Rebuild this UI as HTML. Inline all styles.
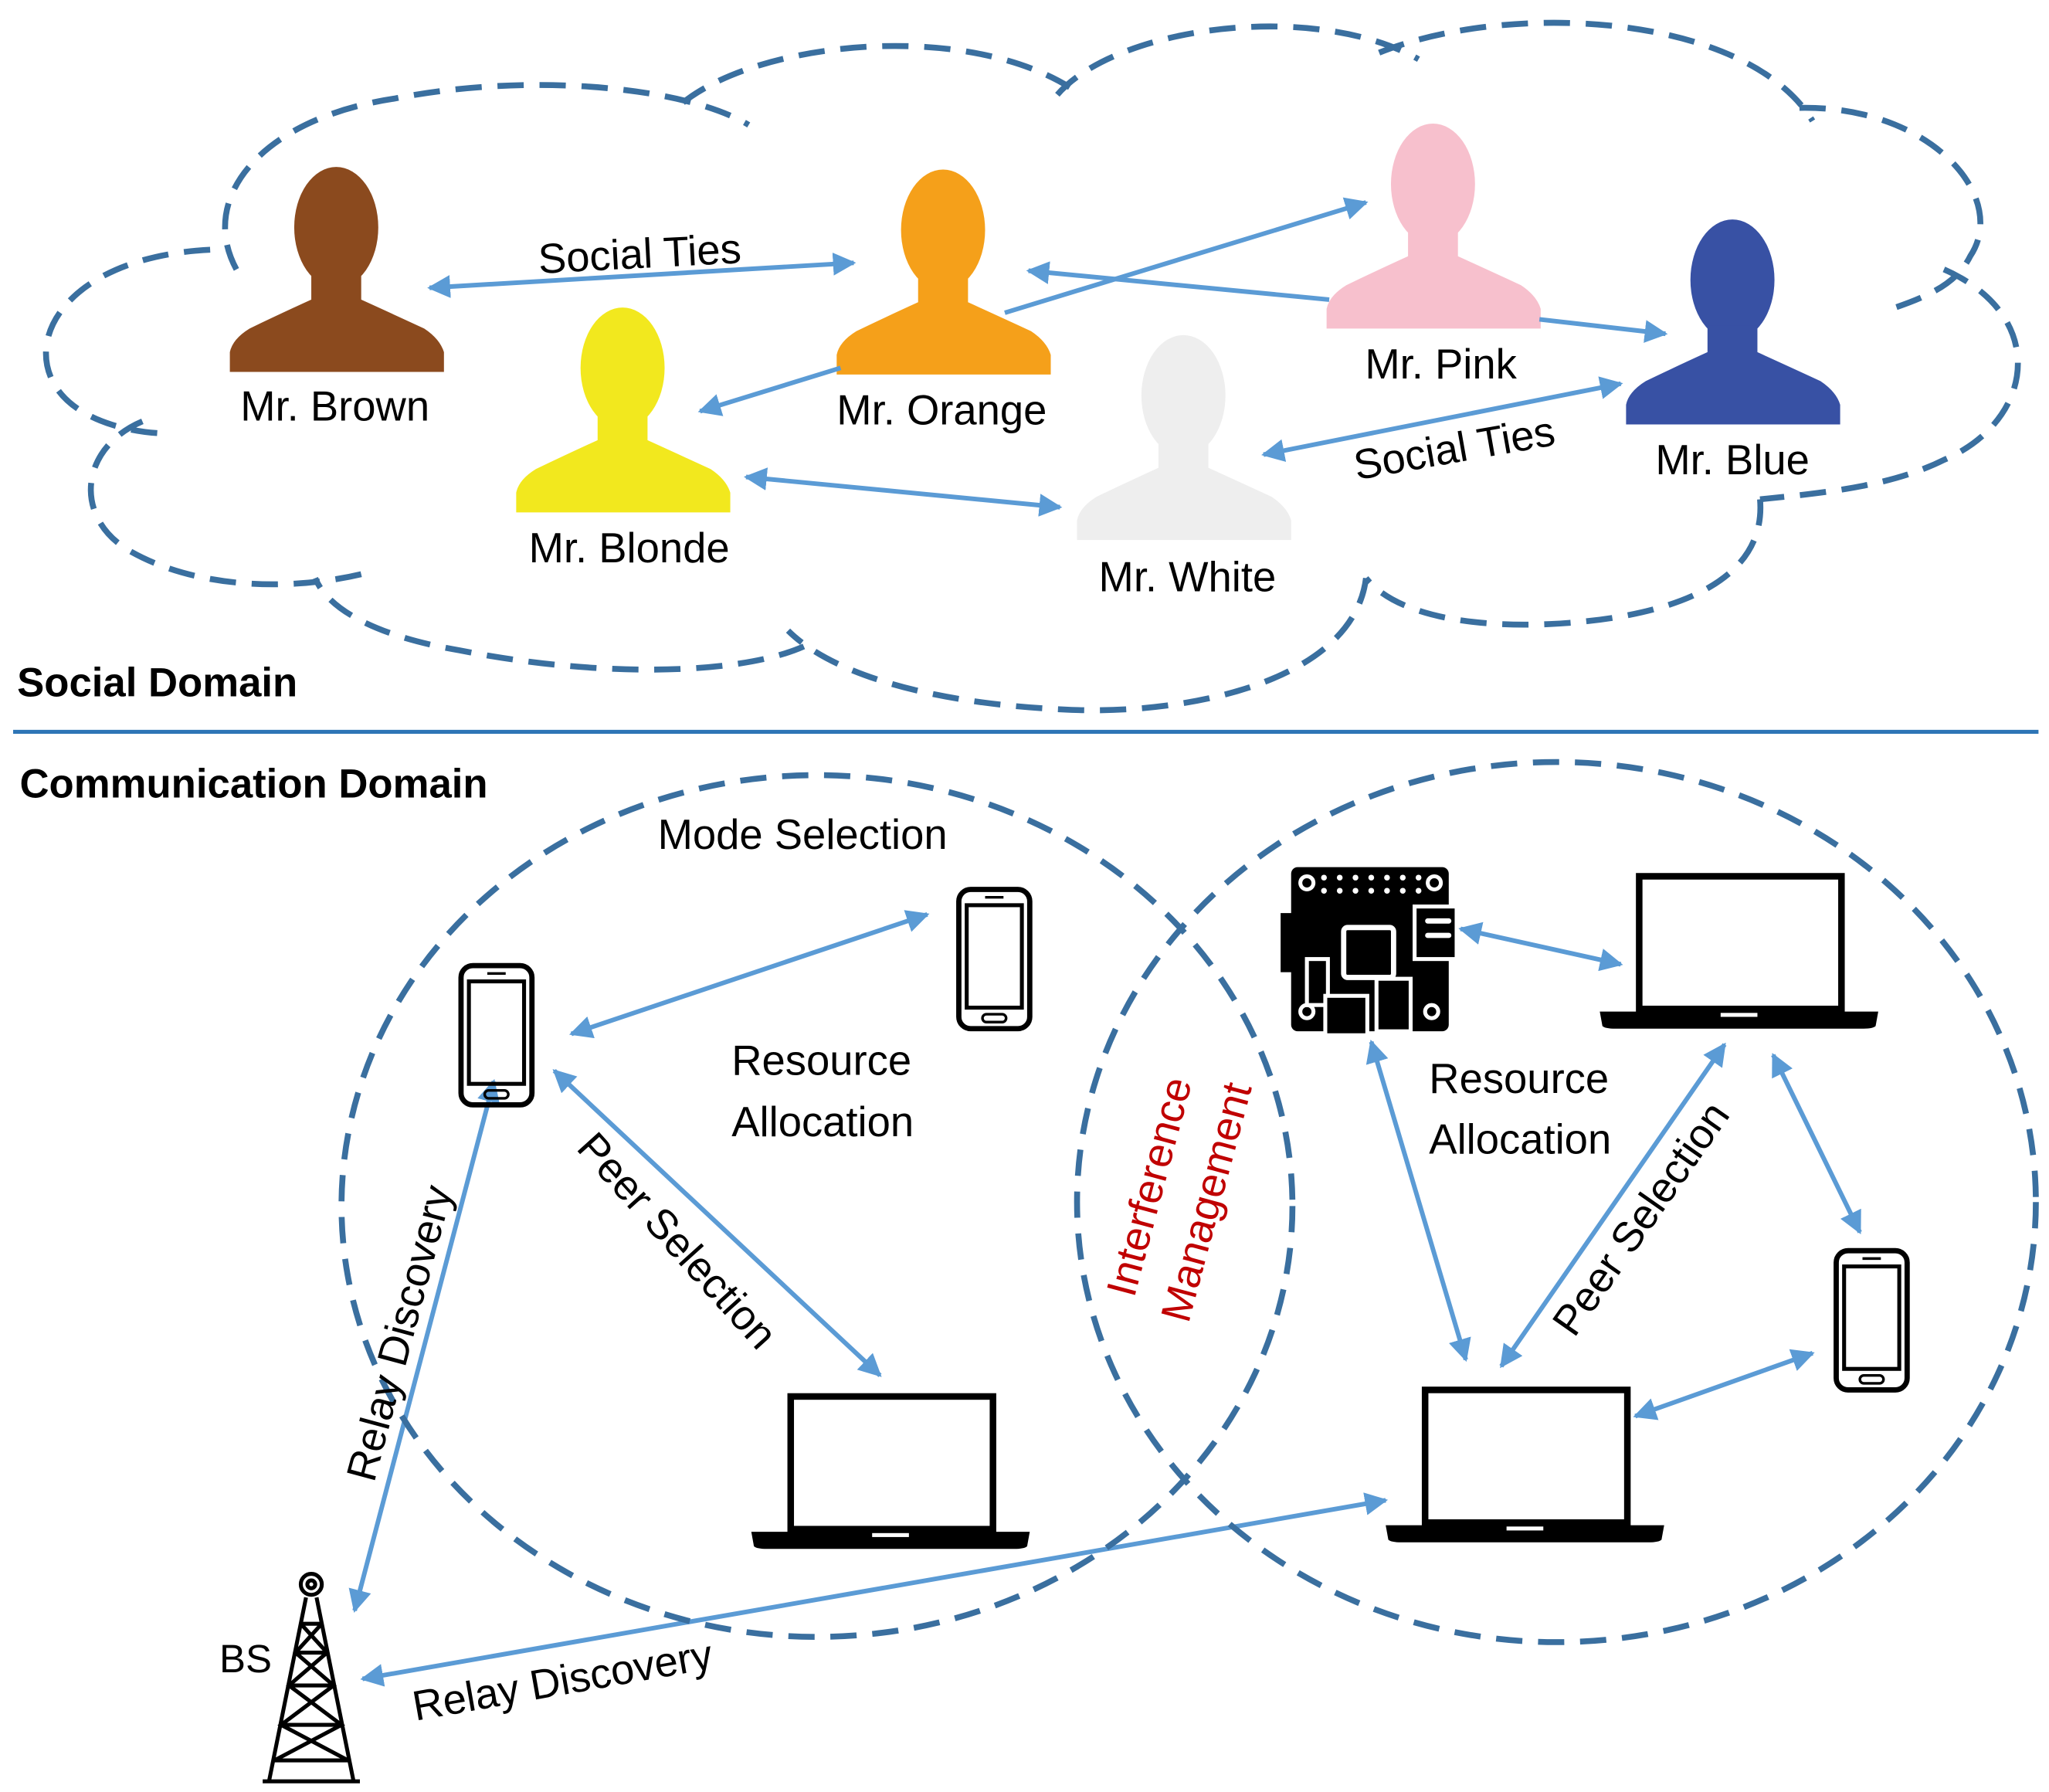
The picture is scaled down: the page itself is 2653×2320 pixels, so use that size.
<!DOCTYPE html>
<html><head><meta charset="utf-8"><style>
html,body{margin:0;padding:0;background:#fff}
svg{display:block}
text{font-family:"Liberation Sans",sans-serif;fill:#000}
</style></head><body>
<svg width="2653" height="2320" viewBox="0 0 1560 1364" xmlns="http://www.w3.org/2000/svg">
<defs>
<marker id="ah" viewBox="0 0 10 10" refX="9" refY="5" markerWidth="5" markerHeight="5" orient="auto-start-reverse"><path d="M0,0 L10,5 L0,10 z" fill="#5b9bd5"/></marker>
<g id="person"><ellipse cx="81" cy="45" rx="32" ry="46"/><path d="M62,80 L62,100 Q40,110 15,122 Q2,130 0,140 L0,155 L163,155 L163,140 Q160,130 148,122 Q122,110 100,100 L100,80 z"/></g>
<g id="phone"><rect x="2" y="2" width="54" height="106" rx="9" fill="none" stroke="#000" stroke-width="4"/><rect x="8" y="14" width="42" height="78" fill="none" stroke="#000" stroke-width="3"/><rect x="20" y="97" width="18" height="6" rx="3" fill="none" stroke="#000" stroke-width="2"/><line x1="22" y1="8" x2="36" y2="8" stroke="#000" stroke-width="2"/></g>
<g id="laptop"><rect x="30" y="3" width="154" height="101" fill="none" stroke="#000" stroke-width="5"/><path d="M0,106 L212,106 L210,117 Q208,119 200,119 L12,119 Q4,119 2,117 z"/><rect x="92" y="107" width="28" height="3" fill="#fff"/></g>
</defs>
<g fill="none" stroke="#3a6f9f" stroke-width="4.5" stroke-dasharray="20,12">
<path d="M160,190 C60,195 20,250 40,290 C55,320 100,330 130,330"/>
<path d="M180,205 C150,150 200,90 300,75 C400,55 520,65 570,95"/>
<path d="M520,78 C580,30 740,15 820,70"/>
<path d="M805,72 C850,20 1000,0 1080,45"/>
<path d="M1050,40 C1150,0 1330,10 1380,92"/>
<path d="M1370,82 C1470,80 1530,150 1500,195 C1490,215 1470,225 1440,235"/>
<path d="M1480,205 C1560,240 1550,320 1480,350 C1440,370 1390,375 1340,380"/>
<path d="M1340,380 C1345,440 1280,470 1180,475 C1110,478 1060,465 1040,440"/>
<path d="M1040,440 C1030,520 900,545 810,540 C700,535 630,510 600,480"/>
<path d="M612,492 C560,515 450,515 350,495 C290,485 250,465 240,440"/>
<path d="M275,437 C220,450 150,448 100,420 C55,395 60,340 110,320"/>
</g>
<use href="#person" x="175" y="128" fill="#8b4a1e"/>
<use href="#person" x="637" y="130" fill="#f5a01a"/>
<use href="#person" x="393" y="235" fill="#f2e81e"/>
<use href="#person" x="1010" y="95" fill="#f7c0cd"/>
<use href="#person" x="1238" y="168" fill="#3851a4"/>
<use href="#person" x="820" y="256" fill="#eeeeee"/>
<g stroke="#5b9bd5" stroke-width="3.5" marker-start="url(#ah)" marker-end="url(#ah)">
<line x1="327" y1="219" x2="650" y2="200"/>
<line x1="568" y1="363" x2="807" y2="386"/>
<line x1="962" y1="346" x2="1234" y2="292"/>
<line x1="435" y1="787" x2="706" y2="696"/>
<line x1="422" y1="815" x2="670" y2="1047"/>
<line x1="376" y1="823" x2="270" y2="1226"/>
<line x1="276" y1="1278" x2="1055" y2="1142"/>
<line x1="1112" y1="707" x2="1234" y2="734"/>
<line x1="1044" y1="793" x2="1116" y2="1035"/>
<line x1="1313" y1="795" x2="1143" y2="1040"/>
<line x1="1350" y1="803" x2="1416" y2="938"/>
<line x1="1245" y1="1078" x2="1380" y2="1030"/>
</g>
<g stroke="#5b9bd5" stroke-width="3.5">
<line x1="533" y1="313" x2="640" y2="280" marker-start="url(#ah)"/>
<line x1="783" y1="206" x2="1012" y2="228" marker-start="url(#ah)"/>
<line x1="765" y1="238" x2="1040" y2="154" marker-end="url(#ah)"/>
<line x1="1172" y1="243" x2="1268" y2="254" marker-end="url(#ah)"/>
</g>
<g font-size="32">
<text x="255" y="320" text-anchor="middle">Mr. Brown</text>
<text x="717" y="323" text-anchor="middle">Mr. Orange</text>
<text x="479" y="428" text-anchor="middle">Mr. Blonde</text>
<text x="1097" y="288" text-anchor="middle">Mr. Pink</text>
<text x="1319" y="361" text-anchor="middle">Mr. Blue</text>
<text x="904" y="450" text-anchor="middle">Mr. White</text>
<text x="487" y="204" text-anchor="middle" transform="rotate(-3 487 193)">Social Ties</text>
<text x="1107" y="352" text-anchor="middle" transform="rotate(-10 1107 340)">Social Ties</text>
</g>
<text x="13" y="530" font-size="31" font-weight="bold">Social Domain</text>
<line x1="10" y1="557" x2="1552" y2="557" stroke="#2e75b6" stroke-width="3"/>
<text x="15" y="607" font-size="31" font-weight="bold">Communication Domain</text>
<g fill="none" stroke="#3a6f9f" stroke-width="4.5" stroke-dasharray="20,12">
<ellipse cx="622" cy="918" rx="362" ry="328"/>
<ellipse cx="1185" cy="915" rx="365" ry="335"/>
</g>
<use href="#phone" x="349" y="733"/>
<use href="#phone" x="728" y="675"/>
<use href="#phone" x="1396" y="950"/>
<use href="#laptop" x="572" y="1060"/>
<use href="#laptop" x="1218" y="664"/>
<use href="#laptop" x="1055" y="1055"/>
<g>
<rect x="983" y="660" width="120" height="125" rx="5" fill="#000"/>
<rect x="975" y="695" width="12" height="45" fill="#000"/>
<rect x="1077" y="690" width="32" height="40" fill="#000" stroke="#fff" stroke-width="3"/>
<rect x="1085" y="699" width="20" height="4" rx="2" fill="#fff"/><rect x="1085" y="710" width="20" height="4" rx="2" fill="#fff"/>
<rect x="1023" y="706" width="38" height="38" rx="3" fill="none" stroke="#fff" stroke-width="4"/>
<rect x="995" y="730" width="16" height="35" fill="none" stroke="#fff" stroke-width="3"/>
<rect x="1009" y="758" width="32" height="30" fill="#000" stroke="#fff" stroke-width="3"/>
<rect x="1048" y="745" width="26" height="40" fill="#000" stroke="#fff" stroke-width="3"/>
<circle cx="995" cy="672" r="5" fill="none" stroke="#fff" stroke-width="3"/>
<circle cx="1092" cy="672" r="5" fill="none" stroke="#fff" stroke-width="3"/>
<circle cx="995" cy="770" r="5" fill="none" stroke="#fff" stroke-width="3"/>
<circle cx="1090" cy="770" r="5" fill="none" stroke="#fff" stroke-width="3"/>
<g fill="#fff"><circle cx="1008" cy="668" r="2.2"/><circle cx="1020" cy="668" r="2.2"/><circle cx="1032" cy="668" r="2.2"/><circle cx="1044" cy="668" r="2.2"/><circle cx="1056" cy="668" r="2.2"/><circle cx="1068" cy="668" r="2.2"/><circle cx="1080" cy="668" r="2.2"/>
<circle cx="1008" cy="678" r="2.2"/><circle cx="1020" cy="678" r="2.2"/><circle cx="1032" cy="678" r="2.2"/><circle cx="1044" cy="678" r="2.2"/><circle cx="1056" cy="678" r="2.2"/><circle cx="1068" cy="678" r="2.2"/><circle cx="1080" cy="678" r="2.2"/></g>
</g>
<g stroke="#000" stroke-width="3" fill="none">
<circle cx="237" cy="1206" r="8"/><circle cx="237" cy="1206" r="3"/>
<path d="M233,1216 L205,1355 M241,1216 L269,1355 M229,1236 L245,1236 M225,1258 L249,1258 M220,1283 L254,1283 M214,1313 L260,1313 M209,1340 L265,1340 M229,1236 L249,1258 L220,1283 L260,1313 L209,1340 M245,1236 L225,1258 L254,1283 L214,1313 L265,1340 M200,1356 L274,1356"/>
</g>
<g font-size="32">
<text x="611" y="646" text-anchor="middle">Mode Selection</text>
<text x="557" y="818">Resource</text>
<text x="557" y="865">Allocation</text>
<text x="1088" y="832">Resource</text>
<text x="1088" y="878">Allocation</text>
<text x="187" y="1273" text-anchor="middle" font-size="30">BS</text>
<text x="305" y="1025" text-anchor="middle" transform="rotate(-75 305 1015)">Relay Discovery</text>
<text x="428" y="1290" text-anchor="middle" transform="rotate(-10 428 1278)">Relay Discovery</text>
<text x="515" y="955" text-anchor="middle" transform="rotate(48 515 945)">Peer Selection</text>
<text x="1250" y="938" text-anchor="middle" transform="rotate(-55 1250 928)">Peer Selection</text>
<g transform="rotate(-75 900 910)">
<text x="900" y="895" text-anchor="middle" style="fill:#c00000">Interference</text>
<text x="900" y="940" text-anchor="middle" style="fill:#c00000">Management</text>
</g>
</g>
</svg>
</body></html>
